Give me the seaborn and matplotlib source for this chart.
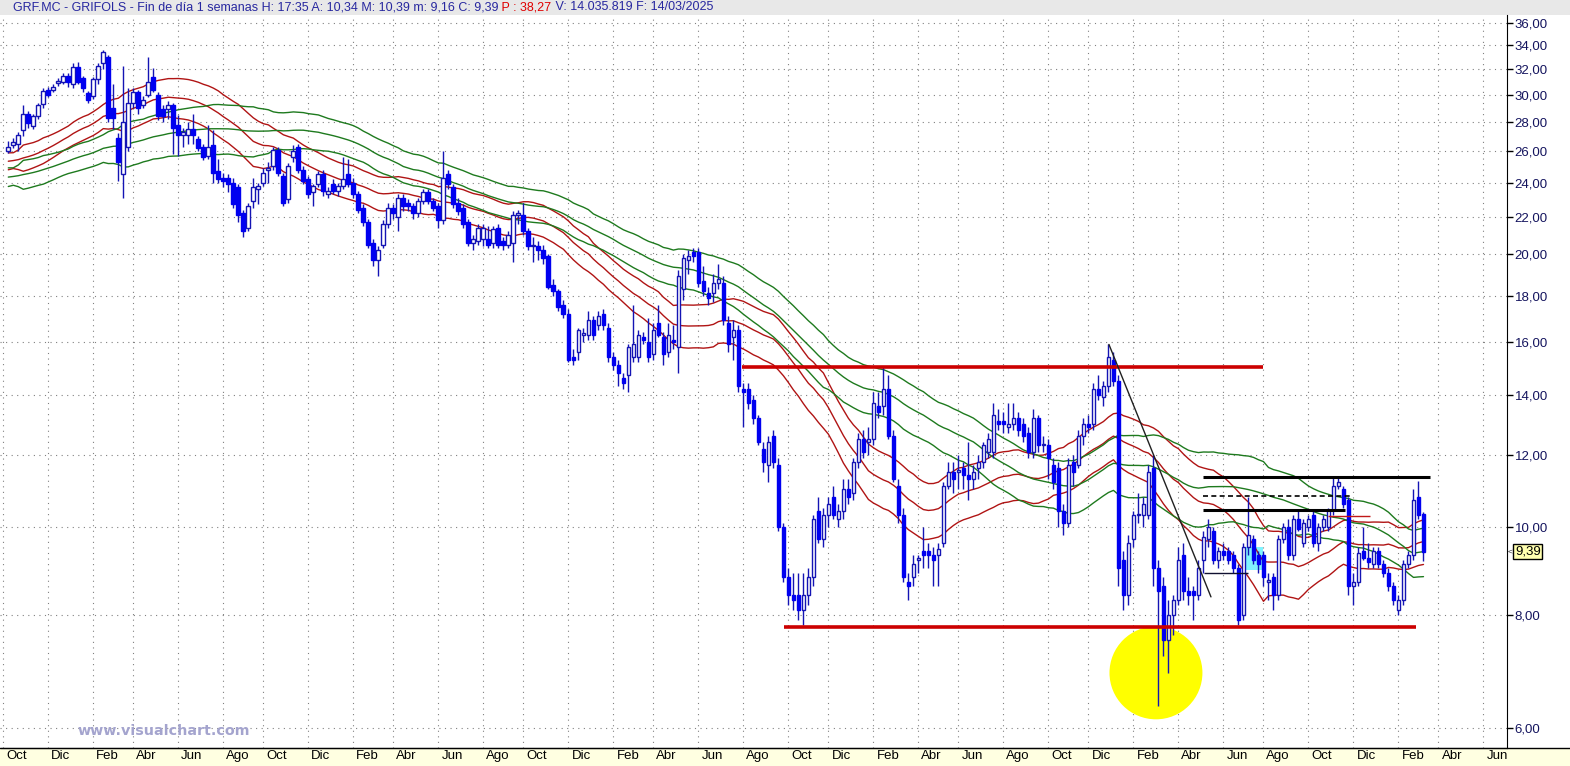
import numpy as np
import pandas as pd
import matplotlib
matplotlib.use("Agg")
import matplotlib.pyplot as plt
from matplotlib.ticker import NullLocator
from matplotlib.transforms import ScaledTranslation
from matplotlib.patches import Rectangle
from matplotlib.lines import Line2D
import seaborn as sns

# ---------- weekly GRF.MC candles (last bar = 14/03/2025) ----------
LAST_DATE = "2025-03-14"

opens = [
    26.0, 26.4, 26.5, 27.4, 28.6, 27.7, 28.4, 29.3, 30.4, 30.4,
    30.9, 31.0, 31.5, 30.8, 32.2, 31.3, 30.1, 29.9, 31.2, 32.5,
    33.0, 29.0, 26.9, 24.5, 26.3, 29.4, 30.2, 29.2, 30.0, 31.4,
    30.0, 28.9, 28.9, 29.2, 27.8, 27.1, 27.1, 27.5, 26.8, 26.3,
    25.7, 26.4, 24.7, 24.3, 24.3, 24.0, 23.7, 22.2, 21.4, 22.9,
    23.6, 24.0, 24.8, 25.0, 26.1, 24.4, 23.0, 25.6, 26.3, 24.8,
    24.2, 23.4, 23.9, 24.5, 23.3, 23.9, 23.5, 23.8, 24.5, 24.0,
    23.3, 22.5, 21.7, 20.6, 19.7, 20.5, 21.6, 22.5, 22.0, 23.1,
    22.8, 22.6, 22.2, 22.9, 23.4, 22.9, 22.6, 21.8, 24.5, 23.7,
    22.8, 22.5, 21.7, 20.6, 20.7, 20.8, 20.8, 20.6, 21.4, 20.7,
    20.5, 20.6, 22.1, 22.1, 21.2, 20.4, 20.4, 20.2, 19.9, 18.5,
    18.2, 17.6, 17.2, 15.4, 15.6, 16.3, 16.3, 16.9, 16.7, 17.2,
    16.6, 15.4, 15.1, 14.6, 14.7, 15.4, 15.4, 16.2, 16.0, 15.5,
    16.8, 16.2, 15.6, 16.1, 15.8, 18.3, 19.7, 20.1, 20.1, 18.7,
    18.1, 18.1, 18.6, 18.6, 16.8, 16.2, 16.5, 14.2, 14.2, 13.8,
    13.2, 12.2, 11.7, 12.6, 11.7, 10.0, 8.8, 8.4, 8.4, 8.1,
    8.4, 8.8, 10.4, 9.7, 10.3, 10.8, 10.2, 10.4, 11.0, 10.9,
    11.8, 12.5, 12.4, 12.5, 13.6, 13.6, 14.2, 12.6, 11.1, 10.3,
    8.7, 8.8, 9.2, 9.4, 9.4, 9.3, 9.3, 9.6, 11.1, 11.5,
    11.5, 11.6, 11.4, 11.3, 11.6, 11.8, 12.1, 12.1, 13.1, 13.1,
    12.9, 13.0, 13.2, 13.0, 12.7, 12.1, 13.2, 12.3, 12.3, 11.7,
    11.6, 10.4, 10.1, 11.8, 11.7, 12.6, 13.0, 13.0, 14.2, 13.9,
    14.3, 15.3, 14.5, 9.2, 8.4, 9.7, 10.3, 10.3, 10.3, 11.6,
    9.0, 8.6, 7.5, 8.0, 8.3, 9.3, 8.5, 8.5, 8.4, 9.2,
    9.7, 9.9, 9.2, 9.4, 9.4, 9.3, 9.0, 8.0, 9.5, 9.7,
    9.3, 9.3, 8.7, 8.8, 8.4, 9.7, 10.0, 9.3, 10.2, 9.6,
    10.0, 10.3, 9.6, 10.0, 10.0, 10.45, 11.1, 11.0, 10.7, 8.6,
    8.7, 9.4, 9.25, 9.1, 9.4, 9.1, 8.9, 8.6, 8.1, 8.3,
    9.1, 9.3, 10.8, 10.34,
]
highs = [
    26.7, 26.9, 27.3, 29.2, 28.8, 28.6, 29.4, 30.5, 30.6, 30.8,
    31.3, 31.7, 31.7, 32.5, 32.6, 31.5, 30.3, 31.4, 32.5, 33.6,
    33.2, 30.8, 27.2, 32.3, 30.5, 30.5, 30.4, 29.9, 33.0, 32.1,
    30.2, 29.2, 29.5, 29.4, 28.5, 27.6, 28.0, 28.6, 27.0, 26.5,
    27.8, 27.4, 25.5, 24.6, 24.5, 24.3, 23.9, 22.4, 22.8, 24.3,
    24.0, 24.9, 25.3, 26.3, 26.3, 24.6, 25.2, 26.4, 26.5, 25.0,
    24.4, 23.9, 24.7, 24.8, 23.7, 24.2, 24.0, 25.6, 25.5, 24.3,
    23.5, 22.7, 21.9, 20.8, 20.4, 21.8, 22.8, 22.7, 23.3, 23.3,
    23.0, 22.8, 23.1, 23.6, 23.6, 23.1, 22.8, 26.0, 24.8, 23.9,
    23.1, 22.7, 21.9, 21.0, 21.6, 21.6, 21.5, 21.5, 21.6, 20.9,
    21.2, 22.3, 22.4, 22.8, 21.4, 20.9, 20.7, 20.5, 20.0, 18.8,
    18.3, 17.8, 17.4, 15.7, 16.6, 16.6, 17.3, 17.1, 17.3, 17.4,
    16.8, 15.6, 15.3, 14.8, 15.9, 17.6, 16.5, 16.4, 17.0, 16.8,
    17.6, 16.4, 16.8, 16.7, 19.2, 20.0, 20.2, 20.3, 20.3, 19.4,
    18.4, 19.0, 19.5, 18.9, 17.1, 16.9, 16.7, 14.4, 14.4, 14.0,
    13.3, 12.4, 12.6, 12.8, 11.9, 10.1, 9.0, 8.9, 8.9, 8.9,
    9.0, 10.3, 10.8, 10.5, 10.8, 11.1, 10.6, 11.3, 11.3, 11.9,
    12.7, 12.8, 12.9, 14.1, 14.1, 15.0, 14.7, 12.8, 11.3, 10.5,
    8.9, 9.3, 9.3, 10.0, 9.6, 9.5, 9.6, 11.2, 11.8, 11.8,
    12.0, 11.8, 12.4, 11.7, 12.0, 12.4, 12.7, 13.7, 13.5, 13.4,
    13.7, 13.7, 13.4, 13.2, 12.9, 13.5, 13.3, 12.6, 12.5, 11.9,
    11.8, 10.6, 11.9, 12.0, 12.8, 13.2, 13.3, 14.4, 14.7, 14.5,
    15.9, 15.6, 14.7, 9.4, 9.8, 10.4, 10.9, 10.8, 11.7, 12.0,
    9.2, 8.8, 8.3, 8.4, 9.5, 9.6, 8.8, 8.6, 9.2, 9.9,
    10.2, 10.0, 9.5, 9.6, 9.5, 9.4, 9.1, 9.6, 10.8, 9.8,
    9.4, 9.4, 8.9, 8.9, 9.8, 10.1, 10.2, 10.3, 10.4, 10.2,
    10.3, 10.4, 10.1, 10.3, 10.5, 11.35, 11.35, 11.1, 10.8, 8.9,
    9.5, 10.0, 9.6, 9.5, 9.5, 9.2, 9.0, 8.7, 8.4, 9.2,
    9.4, 11.0, 11.25, 10.39,
]
lows = [
    25.9, 26.2, 26.0, 27.0, 27.6, 27.5, 28.2, 29.0, 29.8, 30.2,
    30.7, 30.8, 30.6, 30.5, 30.8, 30.2, 29.4, 29.7, 30.8, 32.0,
    28.0, 27.5, 24.1, 23.1, 26.0, 29.0, 28.6, 29.0, 29.8, 30.2,
    28.1, 28.0, 28.2, 25.8, 25.7, 26.3, 26.5, 26.5, 26.0, 25.4,
    25.5, 24.0, 24.0, 23.7, 23.4, 22.5, 21.7, 20.9, 21.2, 22.5,
    22.7, 23.8, 24.0, 24.8, 24.4, 22.6, 22.8, 25.3, 24.6, 23.9,
    23.1, 22.6, 23.7, 23.2, 23.1, 23.3, 23.2, 23.6, 23.7, 23.1,
    22.2, 21.5, 20.3, 19.4, 18.9, 20.3, 21.4, 21.9, 21.2, 22.3,
    22.3, 21.9, 22.0, 22.7, 22.7, 22.3, 21.4, 21.6, 23.6, 22.5,
    22.1, 21.4, 20.4, 20.2, 20.5, 20.4, 20.3, 20.3, 20.3, 20.2,
    20.3, 19.6, 21.6, 21.0, 20.2, 19.6, 19.7, 19.5, 18.3, 18.0,
    17.3, 17.0, 15.2, 15.1, 15.3, 16.0, 16.1, 16.1, 16.5, 16.5,
    15.2, 14.9, 14.3, 14.2, 14.1, 15.2, 15.2, 15.9, 15.2, 15.3,
    16.2, 15.1, 15.4, 15.7, 14.8, 17.8, 19.0, 19.6, 18.4, 18.0,
    17.6, 17.7, 18.3, 16.7, 15.6, 15.3, 14.1, 12.9, 13.5, 13.0,
    12.3, 11.5, 11.2, 11.6, 9.9, 8.7, 8.2, 8.1, 7.9, 7.8,
    8.2, 8.6, 9.6, 9.5, 10.0, 10.2, 10.0, 10.2, 10.6, 10.7,
    11.6, 11.9, 12.0, 12.3, 13.2, 13.3, 12.5, 11.2, 10.1, 8.7,
    8.3, 8.6, 8.9, 9.0, 9.0, 8.6, 8.6, 9.5, 11.0, 10.9,
    11.0, 11.0, 10.7, 11.0, 11.3, 11.6, 11.9, 11.9, 12.8, 12.7,
    12.7, 12.8, 12.6, 12.4, 11.9, 11.9, 12.1, 12.1, 11.3, 11.0,
    10.0, 9.8, 10.0, 11.1, 11.6, 12.3, 12.7, 12.8, 13.8, 13.6,
    14.1, 14.3, 8.6, 8.1, 8.2, 9.5, 10.1, 10.0, 10.2, 8.6,
    6.35, 7.2, 6.9, 7.6, 8.2, 8.3, 8.2, 7.9, 8.3, 8.9,
    9.5, 9.1, 9.0, 9.2, 9.1, 8.9, 7.8, 7.9, 9.3, 9.1,
    8.9, 8.6, 8.3, 8.1, 8.3, 9.6, 9.2, 9.2, 9.9, 9.5,
    9.9, 9.5, 9.4, 9.9, 9.9, 10.3, 11.0, 10.5, 8.4, 8.2,
    8.6, 9.2, 9.0, 9.0, 9.0, 8.8, 8.5, 8.2, 8.0, 8.2,
    9.0, 9.2, 10.2, 9.16,
]
closes = [
    26.3, 26.6, 27.1, 28.6, 27.9, 28.4, 29.2, 30.3, 30.0, 30.6,
    31.1, 31.5, 31.0, 32.2, 31.0, 30.5, 29.6, 31.2, 32.3, 33.4,
    28.3, 28.3, 25.3, 28.0, 29.4, 30.2, 29.0, 29.6, 31.0, 30.4,
    28.4, 28.4, 29.2, 27.6, 27.1, 27.3, 27.5, 27.1, 26.2, 25.6,
    26.3, 24.6, 24.2, 24.1, 23.9, 22.7, 22.1, 21.2, 22.6, 23.7,
    23.8, 24.6, 24.8, 26.1, 24.6, 22.8, 25.0, 26.0, 24.8, 24.1,
    23.3, 23.8, 24.5, 23.5, 23.5, 23.5, 23.8, 24.2, 23.9, 23.3,
    22.4, 21.7, 20.5, 19.7, 20.2, 21.6, 22.5, 22.2, 23.1, 22.6,
    22.6, 22.2, 22.9, 23.4, 22.9, 22.5, 21.8, 24.3, 23.9, 22.7,
    22.3, 21.6, 20.6, 20.8, 21.4, 21.4, 20.5, 21.3, 20.5, 20.5,
    21.0, 22.1, 22.1, 21.2, 20.4, 20.4, 20.2, 19.8, 18.4, 18.2,
    17.5, 17.2, 15.3, 15.3, 16.5, 16.3, 16.9, 16.3, 17.1, 16.7,
    15.4, 15.1, 14.8, 14.4, 15.8, 15.9, 16.3, 16.1, 15.4, 16.5,
    16.3, 15.5, 16.3, 16.0, 18.9, 19.8, 19.9, 19.9, 18.6, 18.2,
    17.9, 18.6, 18.8, 16.9, 15.9, 16.5, 14.3, 14.1, 13.7, 13.2,
    12.4, 11.8, 12.4, 11.8, 10.0, 8.8, 8.4, 8.3, 8.1, 8.4,
    8.8, 10.2, 9.7, 10.3, 10.6, 10.3, 10.4, 11.0, 10.8, 11.8,
    12.5, 12.1, 12.5, 13.7, 13.4, 14.2, 12.6, 11.3, 10.3, 8.8,
    8.6, 9.1, 9.2, 9.3, 9.3, 9.2, 9.45, 11.1, 11.5, 11.3,
    11.5, 11.4, 11.3, 11.5, 11.8, 12.3, 12.5, 13.3, 13.0, 13.0,
    13.0, 13.2, 12.8, 12.6, 12.1, 13.2, 12.3, 12.3, 11.9, 11.2,
    10.4, 10.1, 11.7, 11.5, 12.6, 13.0, 12.9, 14.2, 14.0, 14.3,
    15.4, 14.5, 9.0, 8.4, 9.6, 10.3, 10.3, 10.6, 11.5, 9.0,
    8.5, 7.5, 8.0, 8.3, 9.2, 8.5, 8.4, 8.4, 9.0, 9.75,
    10.0, 9.2, 9.4, 9.3, 9.2, 9.0, 7.9, 9.5, 9.8, 9.2,
    9.1, 8.8, 8.7, 8.4, 9.7, 10.0, 9.3, 10.2, 9.95, 10.1,
    10.2, 9.6, 10.0, 10.2, 10.45, 11.1, 11.2, 10.6, 8.6, 8.7,
    9.35, 9.25, 9.15, 9.4, 9.1, 8.9, 8.6, 8.3, 8.3, 9.1,
    9.3, 10.7, 10.3, 9.39,
]

# level of each envelope centre before the first bar
red_start = 25.3
green_start = 24.3

# hand-drawn levels on the chart
resistance = 15.02          # red line, top
support = 7.76              # red line, bottom
range_top = 11.34           # black solid
range_mid = 10.83           # black dashed
range_low = 10.45           # black solid
base_level = 8.9            # thin black
small_red = 10.28           # short red mark
trend_from = (220.1, 15.9)  # black trendline (bar, price)
trend_to = (240.5, 8.37)
cyan_box = (247.1, 250.9, 8.97, 9.49)
yellow_spot = (229.5, 6.9)

title_parts = [
    "GRF.MC - GRIFOLS - Fin de día 1 semanas H: 17:35 A: 10,34 M: 10,39 m: 9,16 C: 9,39",
    " P : 38,27",
    " V: 14.035.819 F: 14/03/2025",
]
MONTHS_ES = {2: "Feb", 4: "Abr", 6: "Jun", 8: "Ago", 10: "Oct", 12: "Dic"}

# ---------- frame ----------
df = pd.DataFrame({"open": opens, "high": highs, "low": lows, "close": closes})
df["date"] = pd.date_range(end=LAST_DATE, periods=len(df), freq="W-FRI")
df["x"] = np.arange(len(df))

prev_close = df["close"].shift(1).fillna(df["open"])
true_range = pd.concat([df["high"] - df["low"],
                        (df["high"] - prev_close).abs(),
                        (df["low"] - prev_close).abs()], axis=1).max(axis=1)
atr = true_range.rolling(30, min_periods=1).mean().to_numpy()


def envelope(window, start, k):
    # simple moving average, warmed up with the level the line starts from
    warm = pd.Series([start] * (window - 1))
    mid = pd.concat([warm, df["close"]], ignore_index=True).rolling(window).mean()
    mid = mid.iloc[window - 1:].to_numpy()
    return {"up": mid + k * atr, "mid": mid, "dn": mid - k * atr}


rows = []
for name, bands in (("red", envelope(30, red_start, 0.68)),
                    ("green", envelope(60, green_start, 0.72))):
    for part, vals in bands.items():
        rows.append(pd.DataFrame({"x": df["x"], "value": vals, "line": f"{name}_{part}"}))
ma_long = pd.concat(rows, ignore_index=True)
palette = {f"red_{p}": "#B01414" for p in ("up", "mid", "dn")}
palette.update({f"green_{p}": "#1E7A1E" for p in ("up", "mid", "dn")})

# ---------- figure ----------
sns.set_style("white")
plt.rcParams["font.family"] = ["Liberation Sans", "DejaVu Sans"]

W, H = 1570, 766
AX_RIGHT, AX_TOP, AX_BOTTOM = 1507, 15, 748
fig = plt.figure(figsize=(W / 100, H / 100), dpi=100)
# bottom date strip and top title band
fig.patches.append(Rectangle((0, 0), 1, 1 - AX_BOTTOM / H, transform=fig.transFigure,
                             facecolor="#FFFFE1", edgecolor="none", zorder=-5))
fig.patches.append(Rectangle((0, 1 - AX_TOP / H), 1, AX_TOP / H, transform=fig.transFigure,
                             facecolor="#E8E8E8", edgecolor="none", zorder=-5))
fig.lines.append(Line2D([0, 1], [1 - AX_BOTTOM / H] * 2, transform=fig.transFigure,
                        color="black", linewidth=1, zorder=5))

ax = fig.add_axes([0, 1 - AX_BOTTOM / H, AX_RIGHT / W, (AX_BOTTOM - AX_TOP) / H])
ax.set_yscale("log")
ax.set_ylim(5.70, 36.74)
ax.set_xlim(-1.66, 299.7)

# grid + axes
yticks = list(range(6, 37, 2))
ax.yaxis.tick_right()
ax.set_yticks(yticks)
ax.set_yticklabels([f"{v:.2f}".replace(".", ",") for v in yticks])
ax.yaxis.set_minor_locator(NullLocator())
ax.tick_params(axis="y", direction="out", length=4, width=1, color="black",
               labelcolor="#14145E", labelsize=9.5, pad=1.5)

cal = pd.date_range(start=df["date"].iloc[0] - pd.Timedelta(weeks=2),
                    end=df["date"].iloc[-1] + pd.Timedelta(weeks=18), freq="W-FRI")
cal_x = np.arange(len(cal)) - 2
new_month = np.r_[False, cal.month[1:] != cal.month[:-1]]
xt, xl = [], []
for pos, d, flag in zip(cal_x, cal, new_month):
    if flag and d.month in MONTHS_ES and -1.66 <= pos <= 299.7:
        xt.append(pos)
        xl.append(MONTHS_ES[d.month])
ax.set_xticks(xt)
ax.set_xticklabels(xl)
ax.tick_params(axis="x", direction="out", length=7, width=1, color="black",
               labelcolor="black", labelsize=9.5, pad=-5.5)
offset = ScaledTranslation(3 / 100, 0, fig.dpi_scale_trans)
for lbl in ax.get_xticklabels():
    lbl.set_horizontalalignment("left")
    lbl.set_transform(lbl.get_transform() + offset)

ax.grid(True, which="major", linestyle=(0, (1, 4)), color="#808080", linewidth=0.8)
ax.set_axisbelow(True)
ax.spines["left"].set_visible(False)
ax.spines["top"].set_visible(False)
ax.spines["right"].set_color("black")
ax.spines["bottom"].set_color("black")

# yellow highlight and cyan box under everything
ax.scatter([yellow_spot[0]], [yellow_spot[1]], s=4480, color="#FFFF00", edgecolors="none", zorder=1)
ax.fill_between([cyan_box[0], cyan_box[1]], cyan_box[2], cyan_box[3], color="#80F4FF",
                linewidth=0, zorder=1.5)

# envelopes
sns.lineplot(data=ma_long, x="x", y="value", hue="line", palette=palette, legend=False,
             linewidth=1.0, ax=ax, zorder=2)
ax.set_xlabel("")
ax.set_ylabel("")

# candles
x = df["x"].to_numpy()
o = df["open"].to_numpy()
c = df["close"].to_numpy()
up = c >= o
bottom = np.minimum(o, c)
height = np.maximum(np.abs(c - o), bottom * 0.004)
edge = "#1414B4"
blue = "#0000F0"
ax.vlines(x, df["low"], df["high"], color=edge, linewidth=1, zorder=3)
ax.bar(x[up], height[up], bottom=bottom[up], width=0.75, color="white", edgecolor=edge,
       linewidth=1, zorder=3.5)
ax.bar(x[~up], height[~up], bottom=bottom[~up], width=0.75, color=blue, edgecolor=blue,
       linewidth=1, zorder=3.5)

# drawn levels
ax.hlines(resistance, 146.7, 250.9, color="#CC0000", linewidth=2.6, zorder=4)
ax.hlines(support, 155.1, 281.5, color="#CC0000", linewidth=2.6, zorder=4)
ax.hlines(small_red, 264.0, 272.3, color="#C01818", linewidth=1.0, zorder=4)
ax.hlines(range_top, 239.0, 284.3, color="black", linewidth=2.2, zorder=4)
ax.hlines(range_mid, 239.0, 268.3, color="black", linewidth=1.2, linestyles=(0, (3, 2)), zorder=4)
ax.hlines(range_low, 239.0, 267.3, color="black", linewidth=2.2, zorder=4)
ax.hlines(base_level, 239.1, 248.0, color="#101030", linewidth=1.0, zorder=4)
ax.plot([trend_from[0], trend_to[0]], [trend_from[1], trend_to[1]], color="#202020",
        linewidth=1.0, zorder=4)

# last price tag
last = closes[-1]
ax.annotate("<", xy=(1, last), xycoords=("axes fraction", "data"), xytext=(1, 0),
            textcoords="offset pixels", fontsize=6, va="center", ha="left",
            annotation_clip=False)
ax.annotate(f"{last:.2f}".replace(".", ","), xy=(1, last), xycoords=("axes fraction", "data"),
            xytext=(8, 0), textcoords="offset pixels", fontsize=9.5, va="center", ha="left",
            color="black", annotation_clip=False,
            bbox=dict(boxstyle="square,pad=0.12", facecolor="#FFFFB0", edgecolor="black", linewidth=1))

# title line
t1 = fig.text(13 / W, 1 - 7.5 / H, title_parts[0], color="#2828A0", fontsize=9, va="center", ha="left")
t2 = ax.annotate(title_parts[1], xy=(1, 0), xycoords=t1, va="bottom", ha="left",
                 color="#E00000", fontsize=9, annotation_clip=False)
ax.annotate(title_parts[2], xy=(1, 0), xycoords=t2, va="bottom", ha="left",
            color="#2828A0", fontsize=9, annotation_clip=False)

# watermark
fig.text(77 / W, 1 - 731 / H, "www.visualchart.com", color="#A4A4CE", fontsize=10.3,
         fontweight="bold", va="center", ha="left", family="DejaVu Sans")

fig.savefig("out.png", dpi=100)
